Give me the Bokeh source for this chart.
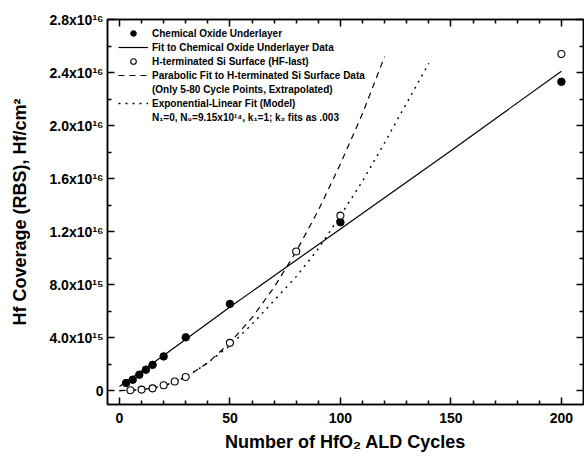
from bokeh.plotting import figure
from bokeh.models import (Range1d, LinearAxis, FixedTicker, CustomJSTickFormatter,
                          Legend, LegendItem)
from bokeh.embed import file_html
from bokeh.resources import INLINE

# ---------------- data ----------------
chem_x = [3, 6, 9, 12, 15, 20, 30, 50, 100, 200]
chem_y = [5.7e14, 8.2e14, 1.2e15, 1.58e15, 1.94e15, 2.58e15, 4.02e15, 6.54e15, 1.27e16, 2.33e16]

hterm_x = [5, 10, 15, 20, 25, 30, 50, 80, 100, 200]
hterm_y = [3e13, 7.5e13, 1.7e14, 4.0e14, 6.8e14, 1.03e15, 3.6e15, 1.05e16, 1.32e16, 2.54e16]

linfit_x = [0, 20, 50, 100, 150, 200]
linfit_y = [3.0e14, 2.65e15, 6.3e15, 1.22e16, 1.81e16, 2.41e16]

parab_x = [0, 10, 20, 30, 40, 50, 60, 70, 80, 90, 100, 110, 120]
parab_y = [0.0, 5e13, 3.5e14, 1.0e15, 2.1e15, 3.6e15, 5.5e15, 7.8e15, 1.05e16,
           1.36e16, 1.71e16, 2.09e16, 2.52e16]

model_x = [0, 10, 20, 30, 40, 50, 60, 70, 80, 90, 100, 110, 120, 130, 140]
model_y = [0.0, 6e13, 3.5e14, 1.0e15, 2.1e15, 3.4e15, 5.0e15, 6.8e15, 8.6e15,
           1.07e16, 1.32e16, 1.58e16, 1.87e16, 2.17e16, 2.47e16]

x_ticks = [0, 50, 100, 150, 200]
x_minor = [10, 20, 30, 40, 60, 70, 80, 90, 110, 120, 130, 140, 160, 170, 180, 190]
y_ticks = [0, 4e15, 8e15, 1.2e16, 1.6e16, 2.0e16, 2.4e16, 2.8e16]
y_minor = [2e15, 6e15, 1.0e16, 1.4e16, 1.8e16, 2.2e16, 2.6e16]
y_tick_labels = ["0", "4.0x10\u00b9\u2075", "8.0x10\u00b9\u2075", "1.2x10\u00b9\u2076",
                 "1.6x10\u00b9\u2076", "2.0x10\u00b9\u2076", "2.4x10\u00b9\u2076",
                 "2.8x10\u00b9\u2076"]

legend_labels = [
    "Chemical Oxide Underlayer",
    "Fit to Chemical Oxide Underlayer Data",
    "H-terminated Si Surface (HF-last)",
    "Parabolic Fit to H-terminated Si Surface Data",
    "(Only 5-80 Cycle Points, Extrapolated)",
    "Exponential-Linear Fit (Model)",
    "N\u2081=0, N\u2080=9.15x10\u00b9\u2074, k\u2081=1; k\u2082 fits as .003",
]
x_label = "Number of HfO\u2082 ALD Cycles"
y_label = "Hf Coverage (RBS), Hf/cm\u00b2"

FONT = "Liberation Sans"

p = figure(width=584, height=459, output_backend="svg", toolbar_location=None,
           x_range=Range1d(-5.4, 210), y_range=Range1d(-1.05e15, 2.8e16),
           min_border_left=107, min_border_right=1, min_border_top=19,
           min_border_bottom=55)
p.grid.visible = False
p.outline_line_color = "black"
p.outline_line_width = 1.5
p.background_fill_color = "white"
p.border_fill_color = "white"

def style_axis(ax, ticker, show_labels):
    ax.ticker = ticker
    ax.axis_line_width = 1.5
    ax.major_tick_line_width = 1.5
    ax.minor_tick_line_width = 1.5
    ax.major_tick_in = 7
    ax.major_tick_out = 0
    ax.minor_tick_in = 4
    ax.minor_tick_out = 0
    if show_labels:
        ax.major_label_text_font = FONT
        ax.major_label_text_font_style = "bold"
        ax.major_label_text_font_size = "14px"
        ax.major_label_text_color = "black"
        ax.axis_label_text_font = FONT
        ax.axis_label_text_font_style = "bold"
        ax.axis_label_text_font_size = "18px"
        ax.axis_label_text_color = "black"
    else:
        ax.formatter = CustomJSTickFormatter(code="return '';")
        ax.major_label_text_font_size = "2px"
        ax.major_label_standoff = 0

xt = FixedTicker(ticks=x_ticks, minor_ticks=x_minor)
yt = FixedTicker(ticks=y_ticks, minor_ticks=y_minor)

xa = p.xaxis[0]
style_axis(xa, xt, True)
xa.axis_label = x_label
xa.major_label_standoff = 8
xa.axis_label_standoff = 6

ya = p.yaxis[0]
style_axis(ya, yt, True)
ya.axis_label = y_label
ya.major_label_standoff = 4
ya.axis_label_standoff = 16
ya.formatter = CustomJSTickFormatter(args=dict(t=y_ticks, l=y_tick_labels), code="""
let best = 0; let d = Infinity;
for (let i = 0; i < t.length; i++) { const e = Math.abs(t[i] - tick); if (e < d) { d = e; best = i; } }
return l[best];
""")

top = LinearAxis()
style_axis(top, xt, False)
p.add_layout(top, "above")
right = LinearAxis()
style_axis(right, yt, False)
p.add_layout(right, "right")

r_lin = p.line(linfit_x, linfit_y, line_color="black", line_width=1.2)
r_par = p.line(parab_x, parab_y, line_color="black", line_width=1.2, line_dash="6 5")
r_mod = p.line(model_x, model_y, line_color="black", line_width=1.4, line_dash="2 5")
r_chem = p.scatter(chem_x, chem_y, marker="circle", size=7.5, fill_color="black",
                   line_color="black")
r_h = p.scatter(hterm_x, hterm_y, marker="circle", size=7, fill_color="white",
                line_color="black", line_width=1.1)
r_blank = p.line(x=[], y=[], line_alpha=0)

legend = Legend(items=[
    LegendItem(label=legend_labels[0], renderers=[r_chem]),
    LegendItem(label=legend_labels[1], renderers=[r_lin]),
    LegendItem(label=legend_labels[2], renderers=[r_h]),
    LegendItem(label=legend_labels[3], renderers=[r_par]),
    LegendItem(label=legend_labels[4], renderers=[r_blank]),
    LegendItem(label=legend_labels[5], renderers=[r_mod]),
    LegendItem(label=legend_labels[6], renderers=[r_blank]),
], location=(11, 280))
legend.padding = 0
legend.margin = 0
legend.spacing = 0
legend.glyph_height = 14
legend.label_height = 14
legend.glyph_width = 30
legend.label_standoff = 4
legend.border_line_color = None
legend.background_fill_alpha = 0
legend.label_text_font = FONT
legend.label_text_font_style = "bold"
legend.label_text_font_size = "10px"
legend.label_text_color = "black"
p.add_layout(legend)

open("out.html", "w").write(file_html(p, INLINE))
